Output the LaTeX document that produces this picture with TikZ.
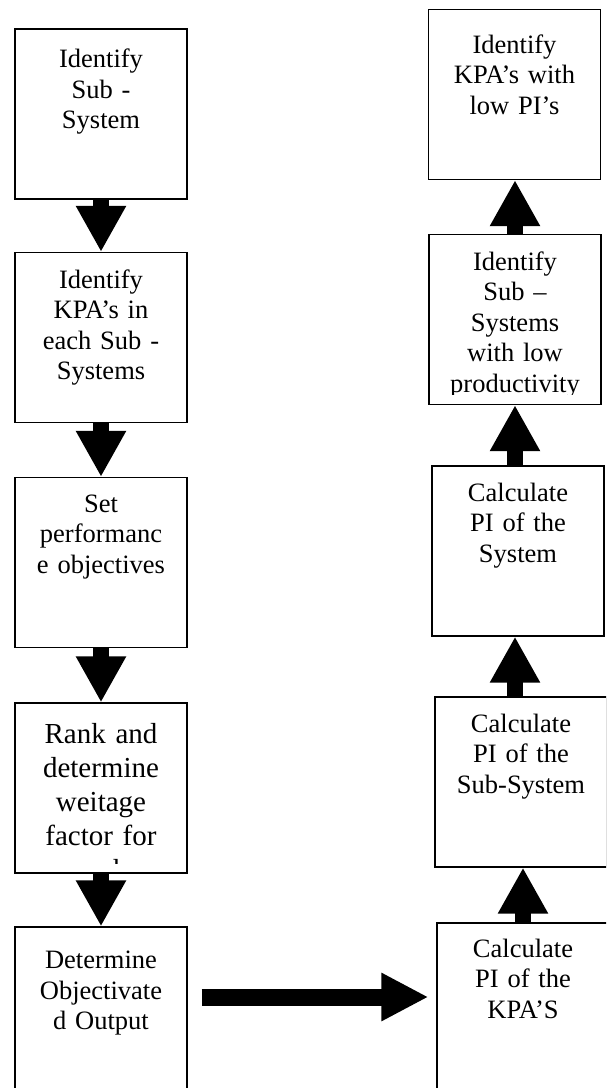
\documentclass[tikz,border=0pt]{standalone}
\usepackage{fontspec}
\setmainfont{Liberation Serif}
\usetikzlibrary{arrows.meta}

\begin{document}
\begin{tikzpicture}[x=1pt, y=-1pt, line width=1.2pt,
    box/.style={draw, minimum width=172pt, minimum height=170pt, inner sep=0pt},
    txt/.style={anchor=north, inner sep=0pt, text width=160pt, align=center,
      font=\fontsize{26.5}{30.5}\selectfont},
    bigtxt/.style={txt, font=\fontsize{29}{34}\selectfont},
    blk/.style={line width=16pt, -{Triangle[length=46pt, width=47pt]}}]
    \clip (0,0) rectangle (606,1088);
    % Left column
    \node[box] (b1) at (101,114) {};
    \node[box] (b2) at (101,337.5) {};
    \node[box] (b3) at (101,562.5) {};
    \node[box] (b4) at (101,788) {};
    \node[box] (b5) at (101,1012) {};
    \node[txt] (t1) at ([yshift=-20]b1.north) {Identify\\Sub -\\System};
    \node[txt] (t2) at ([yshift=-17]b2.north) {Identify\\KPA’s in\\each Sub -\\Systems};
    \node[txt] (t3) at ([yshift=-17]b3.north) {Set\\performanc\\e objectives};
    \begin{scope}
        \clip (b4.north west) rectangle ([yshift=10]b4.south east);
        \node[bigtxt] (t4) at ([yshift=-20]b4.north) {Rank and\\determine\\weitage\\factor for\\each};
    \end{scope}
    \node[txt] (t5) at ([yshift=-24]b5.north) {Determine\\Objectivate\\d Output};
    % Right column
    \node[box] (r1) at (514.5,94.5) {};
    \node[box] (r2) at (515,319.5) {};
    \node[box] (r3) at (518,551) {};
    \node[box] (r4) at (521,782) {};
    \node[box] (r5) at (523,1008) {};
    \node[txt] (s1) at ([yshift=-25]r1.north) {Identify\\KPA’s with\\low PI’s};
    \begin{scope}
        \clip (r2.north west) rectangle ([yshift=11]r2.south east);
        \node[txt] (s2) at ([yshift=-17]r2.north) {Identify\\Sub –\\Systems\\with low\\productivity};
    \end{scope}
    \node[txt] (s3) at ([yshift=-17]r3.north) {Calculate\\PI of the\\System};
    \node[txt] (s4) at ([yshift=-17]r4.north) {Calculate\\PI of the\\Sub-System};
    \node[txt] (s5) at ([yshift=-16]r5.north) {Calculate\\PI of the\\KPA’S};
    % Block arrows
    \draw[blk] (b1.south) -- (b2.north);
    \draw[blk] (b2.south) -- (b3.north);
    \draw[blk] (b3.south) -- (b4.north);
    \draw[blk] (b4.south) -- (b5.north);
    \draw[blk] (r2.north) -- (r1.south -| r2.north);
    \draw[blk] (r3.north -| r2) -- (r2.south);
    \draw[blk] (r4.north -| r2) -- (r3.south -| r2);
    \draw[blk] (r5.north) -- (r4.south -| r5.north);
    \draw[blk, line width=17pt, -{Triangle[length=47pt, width=45pt]}, shorten <=14pt, shorten >=8pt]
        ([yshift=15]b5.east) -- ([yshift=15]b5.east -| r5.west);
\end{tikzpicture}
\end{document}
